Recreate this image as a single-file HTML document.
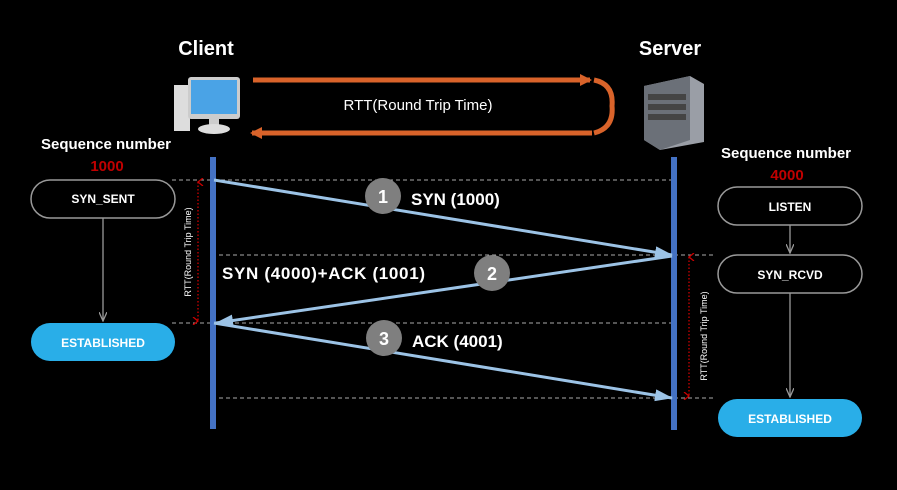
<!DOCTYPE html>
<html><head><meta charset="utf-8"><style>
html,body{margin:0;padding:0;background:#000;width:897px;height:490px;overflow:hidden}
text{font-family:"Liberation Sans",sans-serif}
</style></head><body>
<svg width="897" height="490" viewBox="0 0 897 490" xmlns="http://www.w3.org/2000/svg">
<defs>
<marker id="ab" markerWidth="18" markerHeight="12" refX="17" refY="6" orient="auto" markerUnits="userSpaceOnUse" viewBox="0 0 18 12"><path d="M0,0 L18,6 L0,12 Z" fill="#9cc3e6"/></marker>
<marker id="ao" markerWidth="12" markerHeight="12" refX="10" refY="6" orient="auto" markerUnits="userSpaceOnUse" viewBox="0 0 12 12"><path d="M0,0 L12,6 L0,12 Z" fill="#d9632a"/></marker>
<marker id="ag" markerWidth="10" markerHeight="8" refX="9" refY="4" orient="auto" markerUnits="userSpaceOnUse" viewBox="0 0 10 8"><path d="M0,0 L9,4 L0,8" fill="none" stroke="#999" stroke-width="1.3"/></marker>
<marker id="ar" markerWidth="8" markerHeight="8" refX="4" refY="1" orient="auto-start-reverse" markerUnits="userSpaceOnUse" viewBox="0 0 8 8"><path d="M0,6 L4,1 L8,6" fill="none" stroke="#c00" stroke-width="1.3"/></marker>
</defs>
<text x="206" y="55" fill="#fff" font-size="20" font-weight="bold" text-anchor="middle">Client</text>
<text x="670" y="55" fill="#fff" font-size="20" font-weight="bold" text-anchor="middle">Server</text>
<!-- client pc -->
<rect x="174" y="85" width="16" height="46" fill="#ddd"/>
<rect x="188" y="77" width="52" height="42" rx="3" fill="#ccc"/>
<rect x="191" y="80" width="46" height="34" fill="#4aa3e6"/>
<rect x="209" y="119" width="10" height="6" fill="#ccc"/>
<ellipse cx="214" cy="129" rx="16" ry="5" fill="#ddd"/>
<!-- server -->
<path d="M644 86 L690 76 L704 84 L704 142 L660 150 L644 140 Z" fill="#9a9ea6"/>
<path d="M644 86 L690 76 L690 140 L660 150 L644 140Z" fill="#6b7078"/>
<rect x="648" y="94" width="38" height="6" fill="#444"/>
<rect x="648" y="104" width="38" height="6" fill="#444"/>
<rect x="648" y="114" width="38" height="6" fill="#444"/>
<!-- orange arrows -->
<line x1="253" y1="80" x2="590" y2="80" stroke="#d9632a" stroke-width="5" marker-end="url(#ao)"/>
<path d="M594 80 Q614 84 612 106 Q614 128 594 133" fill="none" stroke="#d9632a" stroke-width="5"/>
<line x1="592" y1="133" x2="252" y2="133" stroke="#d9632a" stroke-width="5" marker-end="url(#ao)"/>
<text x="418" y="110" fill="#fff" font-size="15" text-anchor="middle">RTT(Round Trip Time)</text>
<!-- sequence labels -->
<text x="106" y="149" fill="#fff" font-size="15" font-weight="bold" text-anchor="middle">Sequence number</text>
<text x="107" y="171" fill="#c00000" font-size="15" font-weight="bold" text-anchor="middle">1000</text>
<text x="786" y="158" fill="#fff" font-size="15" font-weight="bold" text-anchor="middle">Sequence number</text>
<text x="787" y="180" fill="#c00000" font-size="15" font-weight="bold" text-anchor="middle">4000</text>
<!-- dashed -->
<g stroke="#aaa" stroke-width="1" stroke-dasharray="4,3">
<line x1="172" y1="180" x2="672" y2="180"/>
<line x1="212" y1="255" x2="716" y2="255"/>
<line x1="172" y1="323" x2="672" y2="323"/>
<line x1="212" y1="398" x2="716" y2="398"/>
</g>
<!-- lifelines -->
<rect x="210" y="157" width="6" height="272" fill="#4472c4"/>
<rect x="671" y="157" width="6" height="273" fill="#4472c4"/>
<!-- RTT red -->
<line x1="198" y1="182" x2="198" y2="321" stroke="#c00" stroke-width="1.3" stroke-dasharray="1.5,2" marker-start="url(#ar)" marker-end="url(#ar)"/>
<text transform="translate(191,252) rotate(-90)" fill="#fff" font-size="9" text-anchor="middle">RTT(Round Trip Time)</text>
<line x1="689" y1="257" x2="689" y2="396" stroke="#c00" stroke-width="1.3" stroke-dasharray="1.5,2" marker-start="url(#ar)" marker-end="url(#ar)"/>
<text transform="translate(707,336) rotate(-90)" fill="#fff" font-size="9" text-anchor="middle">RTT(Round Trip Time)</text>
<!-- messages -->
<g stroke="#9cc3e6" stroke-width="3">
<line x1="214" y1="180" x2="672" y2="255" marker-end="url(#ab)"/>
<line x1="672" y1="256" x2="216" y2="323" marker-end="url(#ab)"/>
<line x1="214" y1="323" x2="672" y2="398" marker-end="url(#ab)"/>
</g>
<g fill="#7f7f7f"><circle cx="383" cy="196" r="18"/><circle cx="492" cy="273" r="18"/><circle cx="384" cy="338" r="18"/></g>
<g fill="#fff" font-size="18" font-weight="bold" text-anchor="middle">
<text x="383" y="203">1</text><text x="492" y="280">2</text><text x="384" y="345">3</text></g>
<g fill="#fff" font-size="17" font-weight="bold">
<text x="411" y="205">SYN (1000)</text>
<text x="222" y="279" textLength="203">SYN (4000)+ACK (1001)</text>
<text x="412" y="347">ACK (4001)</text></g>
<!-- state boxes -->
<g stroke="#999" stroke-width="1.5" fill="#000">
<rect x="31" y="180" width="144" height="38" rx="19"/>
<rect x="718" y="187" width="144" height="38" rx="19"/>
<rect x="718" y="255" width="144" height="38" rx="19"/>
</g>
<g fill="#29aee8"><rect x="31" y="323" width="144" height="38" rx="19"/><rect x="718" y="399" width="144" height="38" rx="19"/></g>
<g stroke="#999" stroke-width="1.3">
<line x1="103" y1="218" x2="103" y2="321" marker-end="url(#ag)"/>
<line x1="790" y1="225" x2="790" y2="253" marker-end="url(#ag)"/>
<line x1="790" y1="293" x2="790" y2="397" marker-end="url(#ag)"/>
</g>
<g fill="#fff" font-size="12" font-weight="bold" text-anchor="middle">
<text x="103" y="203">SYN_SENT</text>
<text x="103" y="347">ESTABLISHED</text>
<text x="790" y="211">LISTEN</text>
<text x="790" y="279">SYN_RCVD</text>
<text x="790" y="423">ESTABLISHED</text>
</g>
</svg>
</body></html>
